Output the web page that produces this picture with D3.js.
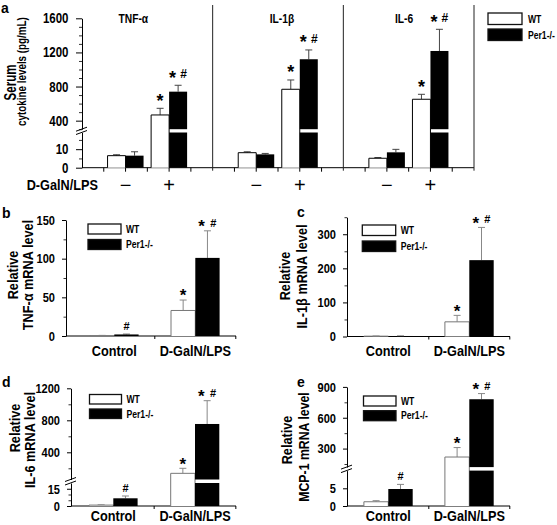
<!DOCTYPE html>
<html><head><meta charset="utf-8">
<script src="https://cdn.jsdelivr.net/npm/d3@7"></script>
<style>
body{margin:0;background:#fff}
svg text{font-family:'Liberation Sans',Arial,sans-serif;font-weight:bold;fill:#000}
</style></head><body>
<svg id="chart" width="557" height="525"></svg>
<script>
// ---------------- DATA ----------------
const groups = ["Control", "D-GalN/LPS"];
const genotypes = ["WT", "Per1-/-"];
const treatmentSigns = ["\u2212", "+"];

// Panel a: serum cytokines (pg/mL), per cytokine [Control, D-GalN/LPS]
const cytokines   = ["TNF-\u03b1", "IL-1\u03b2", "IL-6"];
const serumWT     = [[6.5, 467], [8.1, 768], [5.1, 651]];
const serumWTErr  = [[7.0, 545], [8.6, 877], [5.5, 709]];
const serumKO     = [[6.5, 740], [7.2, 1120], [8.3, 1217]];
const serumKOErr  = [[8.6, 815], [7.7, 1229], [9.9, 1471]];
const serumWTMark = [["", "*"], ["", "*"], ["", "*"]];
const serumKOMark = [["", "*#"], ["", "*#"], ["", "*#"]];
const serumTicksUpper = [400, 800, 1200, 1600];
const serumMinorUpper = [300, 500, 600, 700, 900, 1000, 1100, 1300, 1400, 1500];
const serumTicksLower = [0, 10];
const serumMinorLower = [5, 15];

// Panel b: TNF-alpha mRNA
const tnfWT = [0.5, 33], tnfWTErr = [0.8, 46.5];
const tnfKO = [2.0, 101], tnfKOErr = [2.6, 136];
const tnfWTMark = ["", "*"], tnfKOMark = ["#", "*#"];
const tnfTicks = [0, 50, 100, 150], tnfMinor = [25, 75, 125];

// Panel c: IL-1beta mRNA
const il1bWT = [1.0, 43], il1bWTErr = [1.5, 62];
const il1bKO = [1.5, 224], il1bKOErr = [2.0, 320];
const il1bWTMark = ["", "*"], il1bKOMark = ["", "*#"];
const il1bTicks = [0, 100, 200, 300], il1bMinor = [50, 150, 250, 350];

// Panel d: IL-6 mRNA
const il6WT = [0.8, 137], il6WTErr = [1.0, 200];
const il6KO = [6.7, 754], il6KOErr = [8.7, 1045];
const il6WTMark = ["", "*"], il6KOMark = ["#", "*#"];
const il6TicksUpper = [400, 800, 1200], il6MinorUpper = [200, 600, 1000];
const il6TicksLower = [0, 15], il6MinorLower = [5, 10];

// Panel e: MCP-1 mRNA
const mcpWT = [1.2, 218], mcpWTErr = [1.5, 310];
const mcpKO = [4.8, 780], mcpKOErr = [6.1, 835];
const mcpWTMark = ["", "*"], mcpKOMark = ["#", "*#"];
const mcpTicksUpper = [300, 600, 900], mcpMinorUpper = [150, 450, 750];
const mcpTicksLower = [0, 5], mcpMinorLower = [];

// ---------------- DRAWING ----------------
const SX = 0.82; // narrow (Arial Narrow-like) horizontal compression
const svg = d3.select("#chart");
svg.append("rect").attr("width", 557).attr("height", 525).attr("fill", "#fff");

function makeY(lowerDomain, lowerRange, upperDomain, upperRange) {
  const lower = d3.scaleLinear().domain(lowerDomain).range(lowerRange);
  const upper = upperDomain ? d3.scaleLinear().domain(upperDomain).range(upperRange) : null;
  const lowMax = lowerDomain[1];
  const upMin = upperDomain ? upperDomain[0] : null;
  const y = v => (upper && v > lowMax) ? upper(v) : lower(v);
  const segs = v => (upper && v > lowMax)
    ? [[lower(0), lower(lowMax)], [upper(upMin), upper(v)]]
    : [[lower(0), lower(v)]];
  return {lower, upper, y, segs, lowMax, upMin};
}

function yAxis(g, Y, axisX, ticksL, minorL, ticksU, minorU, st) {
  const ax = g.append("g").attr("transform", `translate(${axisX},0)`);
  const one = (scale, ticks, minors) => {
    const a = ax.append("g").call(d3.axisLeft(scale).tickValues(ticks).tickSize(st.tickLen)
      .tickPadding(st.tickPad).tickSizeOuter(0).tickFormat(d3.format("d")));
    a.attr("font-size", st.tickFont).attr("font-family", null);
    a.select(".domain").attr("stroke", "#000").attr("stroke-width", 1);
    a.selectAll(".tick line").attr("stroke", "#000");
    if (minors && minors.length) {
      const m = ax.append("g").call(d3.axisLeft(scale).tickValues(minors).tickSize(st.minorLen).tickFormat("").tickSizeOuter(0));
      m.select(".domain").remove();
      m.selectAll(".tick line").attr("stroke", "#333");
    }
  };
  one(Y.lower, ticksL, minorL);
  if (Y.upper) {
    one(Y.upper, ticksU, minorU);
    const yb = Y.upper(Y.upMin), yt = Y.lower(Y.lowMax);
    [yb, yt].forEach(yy => {
      g.append("line").attr("x1", axisX - 6).attr("y1", yy + 2).attr("x2", axisX + 5).attr("y2", yy - 2)
        .attr("stroke", "#000").attr("stroke-width", 1);
    });
  }
}

function drawMark(g, cx, yTop, mark, st) {
  if (!mark) return;
  const yc = yTop - st.markGap;
  const star = x => g.append("text").attr("class", "reg").attr("x", x).attr("y", yc + 0.55 * st.starSize)
    .attr("text-anchor", "middle").attr("font-size", st.starSize).text("*");
  const hash = x => g.append("text").attr("class", "reg").attr("x", x).attr("y", yc + 0.36 * st.hashSize)
    .attr("text-anchor", "middle").attr("font-size", st.hashSize).text("#");
  if (mark === "*") star(cx);
  else if (mark === "#") hash(cx);
  else { star(cx - st.pairDx); hash(cx + st.pairDx); }
}

function drawBars(g, x, sub, Y, wt, wtErr, ko, koErr, wtMark, koMark, st) {
  const series = [
    {key: genotypes[0], vals: wt, errs: wtErr, marks: wtMark, black: false},
    {key: genotypes[1], vals: ko, errs: koErr, marks: koMark, black: true}
  ];
  series.forEach(s => {
    groups.forEach((grp, i) => {
      const v = s.vals[i], e = s.errs[i];
      const x0 = x(grp) + sub(s.key), w = sub.bandwidth(), cx = x0 + w / 2;
      g.append("line").attr("x1", cx).attr("x2", cx).attr("y1", Y.y(v)).attr("y2", Y.y(e))
        .attr("stroke", st.errColor).attr("stroke-width", 1);
      g.append("line").attr("x1", cx - st.capW / 2).attr("x2", cx + st.capW / 2)
        .attr("y1", Y.y(e)).attr("y2", Y.y(e)).attr("stroke", st.errColor).attr("stroke-width", 1);
      if (s.black) {
        Y.segs(v).forEach(([b, t]) => {
          g.append("rect").attr("x", x0).attr("y", t).attr("width", w).attr("height", Math.max(0.5, b - t)).attr("fill", "#000");
        });
      } else {
        g.append("rect").attr("x", x0).attr("y", Y.y(v)).attr("width", w).attr("height", Y.y(0) - Y.y(v)).attr("fill", "#fff");
        g.append("path").attr("d", `M${x0},${Y.y(0)}V${Y.y(v)}H${x0 + w}V${Y.y(0)}`)
          .attr("fill", "none").attr("stroke", st.wtStroke).attr("stroke-width", 1);
      }
      drawMark(g, cx, Y.y(e), s.marks[i], st);
    });
  });
}

function legend(g, x, y1, y2, w, h, textX, fs) {
  genotypes.forEach((name, i) => {
    const yy = i === 0 ? y1 : y2;
    g.append("rect").attr("x", x).attr("y", yy).attr("width", w).attr("height", h)
      .attr("fill", i === 0 ? "#fff" : "#000").attr("stroke", "#111").attr("stroke-width", 1.3);
    g.append("text").attr("x", textX).attr("y", yy + h / 2).attr("dy", "0.36em")
      .attr("font-size", fs).text(name);
  });
}

function rotText(g, x, y, fs, txt, sx) {
  const t = g.append("text").attr("transform", `translate(${x},${y}) rotate(-90)`)
    .attr("text-anchor", "middle").attr("font-size", fs).text(txt);
  if (sx) t.attr("data-sx", sx);
}

function letter(x, y, t) {
  svg.append("text").attr("class", "reg").attr("x", x).attr("y", y).attr("font-size", 14).text(t);
}

// ===== Panel a =====
(function () {
  const g = svg.append("g");
  const st = {tickLen: 6, minorLen: 3, tickPad: 7.5, tickFont: 14, errColor: "#444", wtStroke: "#000",
              capW: 7, markGap: 11.5, starSize: 18, hashSize: 12, pairDx: 5.5};
  const axisX = 82, baseY = 167.7;
  const Y = makeY([0, 19], [baseY, 132.5], [300, 1600], [129.2, 18.3]);
  const panelX = d3.scaleBand().domain(cytokines).range([axisX, 474]);
  const sub = d3.scaleBand().domain(genotypes).range([-18, 18]);
  yAxis(g, Y, axisX, serumTicksLower, serumMinorLower, serumTicksUpper, serumMinorUpper, st);
  g.append("line").attr("x1", axisX).attr("x2", 474).attr("y1", baseY).attr("y2", baseY).attr("stroke", "#000");
  const titleX = [133.3, 282, 404];
  cytokines.forEach((c, k) => {
    const left = panelX(c), right = left + panelX.bandwidth();
    const x = d3.scalePoint().domain(groups).range([left, right]).padding(1);
    g.append("line").attr("x1", right).attr("x2", right).attr("y1", 5).attr("y2", baseY + 3)
      .attr("stroke", "#222").attr("stroke-width", 1);
    d3.range(1, 6).forEach(j => {
      const tx = left + j * panelX.bandwidth() / 6;
      g.append("line").attr("x1", tx).attr("x2", tx).attr("y1", baseY).attr("y2", baseY + 4).attr("stroke", "#000");
    });
    drawBars(g, x, sub, Y, serumWT[k], serumWTErr[k], serumKO[k], serumKOErr[k], serumWTMark[k], serumKOMark[k], st);
    g.append("text").attr("x", titleX[k]).attr("y", 22.5).attr("text-anchor", "middle").attr("font-size", 12.5).text(c);
    groups.forEach((grp, i) => {
      g.append("text").attr("class", "reg").attr("x", x(grp)).attr("y", 192)
        .attr("text-anchor", "middle").attr("font-size", 20)
        .style("font-weight", "normal").attr("fill", "#333").text(treatmentSigns[i]);
    });
  });
  g.append("text").attr("x", 26.7).attr("y", 190).attr("font-size", 15.5).text("D-GalN/LPS");
  rotText(g, 15.5, 82.5, 16, "Serum", 0.72);
  rotText(g, 26, 71.5, 13.5, "cytokine levels (pg/mL)", 0.73);
  legend(g, 488, 13, 29, 34, 11.5, 528, 10.5);
  letter(1, 13, "a");
})();

// ===== Panels b–e =====
function mrnaPanel(cfg, wt, wtErr, ko, koErr, wtMark, koMark, ticksL, minorL, ticksU, minorU, title2) {
  const g = svg.append("g");
  const st = {tickLen: 4, minorLen: 2.5, tickPad: 7, tickFont: 13.5, errColor: "#888", wtStroke: "#777",
              capW: 7, markGap: 8, starSize: 17, hashSize: 11, pairDx: 5.8};
  const Y = makeY(cfg.lowerDomain, cfg.lowerRange, cfg.upperDomain, cfg.upperRange);
  const x = d3.scalePoint().domain(groups).range(cfg.centers);
  const sub = d3.scaleBand().domain(genotypes).range([-cfg.barW, cfg.barW]);
  yAxis(g, Y, cfg.axisX, ticksL, minorL, ticksU, minorU, st);
  g.append("line").attr("x1", cfg.axisX).attr("x2", cfg.xEnd).attr("y1", cfg.baseY).attr("y2", cfg.baseY).attr("stroke", "#000");
  const step = x.step();
  [x(groups[0]) + step / 2, x(groups[1]) + step / 2].forEach(tx => {
    g.append("line").attr("x1", tx).attr("x2", tx).attr("y1", cfg.baseY).attr("y2", cfg.baseY + 3).attr("stroke", "#000");
  });
  drawBars(g, x, sub, Y, wt, wtErr, ko, koErr, wtMark, koMark, st);
  groups.forEach(grp => {
    g.append("text").attr("x", x(grp)).attr("y", cfg.labelY).attr("text-anchor", "middle").attr("font-size", 15.5).text(grp);
  });
  rotText(g, cfg.t1x, cfg.t1y, 15.5, "Relative");
  rotText(g, cfg.t2x, cfg.t2y, cfg.t2fs || 15.5, title2);
  legend(g, cfg.legX, cfg.legY1, cfg.legY2, cfg.legW, cfg.legH, cfg.legX + cfg.legW + 5, 10.5);
  letter(cfg.letterX, cfg.letterY, cfg.letter);
}

mrnaPanel({axisX: 66, baseY: 336, xEnd: 236, centers: [114.3, 195.3], barW: 24.3,
  lowerDomain: [0, 150], lowerRange: [336, 220], labelY: 355.5,
  t1x: 18.3, t1y: 275, t2x: 33, t2y: 275, legX: 88, legY1: 224, legY2: 239.5, legW: 33, legH: 10,
  letter: "b", letterX: 2, letterY: 218},
  tnfWT, tnfWTErr, tnfKO, tnfKOErr, tnfWTMark, tnfKOMark, tnfTicks, tnfMinor, null, null, "TNF-\u03b1 mRNA level");

mrnaPanel({axisX: 347, baseY: 336.5, xEnd: 510, centers: [388.3, 469.3], barW: 24.4,
  lowerDomain: [0, 350], lowerRange: [336.5, 217.2], labelY: 355.5,
  t1x: 290, t1y: 276, t2x: 307, t2y: 276.5, legX: 362.3, legY1: 225, legY2: 241, legW: 33.4, legH: 10.5,
  letter: "c", letterX: 297, letterY: 217},
  il1bWT, il1bWTErr, il1bKO, il1bKOErr, il1bWTMark, il1bKOMark, il1bTicks, il1bMinor, null, null, "IL-1\u03b2  mRNA level");

mrnaPanel({axisX: 71, baseY: 506, xEnd: 236, centers: [113.3, 195], barW: 24.3,
  lowerDomain: [0, 20], lowerRange: [506, 483], upperDomain: [60, 1200], upperRange: [479.5, 388.3], labelY: 521,
  t1x: 19.5, t1y: 428, t2x: 34.5, t2y: 440, legX: 89.5, legY1: 394.5, legY2: 409, legW: 32, legH: 9.5,
  letter: "d", letterX: 2, letterY: 387},
  il6WT, il6WTErr, il6KO, il6KOErr, il6WTMark, il6KOMark, il6TicksLower, il6MinorLower, il6TicksUpper, il6MinorUpper, "IL-6 mRNA level");

mrnaPanel({axisX: 347, baseY: 506, xEnd: 510, centers: [388.3, 469.3], barW: 24.4,
  lowerDomain: [0, 10], lowerRange: [506, 470.6], upperDomain: [120, 900], upperRange: [467.1, 386.9], labelY: 521,
  t1x: 291.5, t1y: 440, t2x: 308.5, t2y: 447, t2fs: 15, legX: 363.5, legY1: 396, legY2: 410.7, legW: 32.5, legH: 10,
  letter: "e", letterX: 297, letterY: 387},
  mcpWT, mcpWTErr, mcpKO, mcpKOErr, mcpWTMark, mcpKOMark, mcpTicksLower, mcpMinorLower, mcpTicksUpper, mcpMinorUpper, "MCP-1 mRNA level");

// Arial-Narrow-like look: compress every label text horizontally about its own anchor
svg.selectAll("text:not(.reg)").each(function () {
  const t = d3.select(this);
  const x = +t.attr("x") || 0, y = +t.attr("y") || 0;
  const sx = +t.attr("data-sx") || SX;
  const tr = t.attr("transform") || "";
  t.attr("x", null).attr("y", null).attr("transform", `${tr} translate(${x},${y}) scale(${sx},1)`);
});
</script>
</body></html>
